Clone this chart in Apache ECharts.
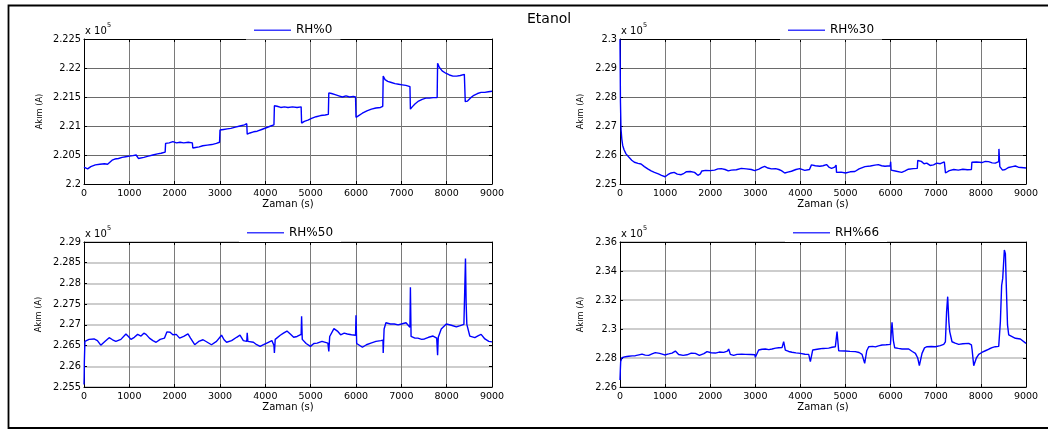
<!DOCTYPE html>
<html>
<head>
<meta charset="utf-8">
<script src="https://cdn.jsdelivr.net/npm/echarts@6/dist/echarts.min.js"></script>
<style>
  html, body { margin: 0; padding: 0; background: #fff; }
  #chart { width: 1048px; height: 431px; }
</style>
</head>
<body>
<div id="chart"></div>
<script>
// Current (x 10^5) against time in seconds, one series per humidity level.
const seriesNames = ['RH%0', 'RH%30', 'RH%50', 'RH%66'];

const rh0 = [
  [0, 2.2029], [40, 2.2027], [80, 2.2026], [150, 2.2030], [250, 2.2033], [350, 2.2034], [450, 2.2035],
  [520, 2.2034], [560, 2.2036], [620, 2.2041], [680, 2.2043], [760, 2.2044], [840, 2.2046], [920, 2.2047],
  [1000, 2.2048], [1080, 2.2049], [1150, 2.2050], [1200, 2.2044], [1240, 2.2045], [1320, 2.2046],
  [1420, 2.2048], [1520, 2.2050], [1620, 2.2052], [1700, 2.2053], [1790, 2.2055], [1800, 2.2070],
  [1880, 2.2071], [1960, 2.2073], [2040, 2.2071], [2120, 2.2072], [2200, 2.2071], [2300, 2.2072],
  [2390, 2.2071], [2400, 2.2062], [2460, 2.2063], [2540, 2.2064], [2620, 2.2066], [2720, 2.2067],
  [2820, 2.2068], [2920, 2.2070], [2990, 2.2072], [3000, 2.2093], [3080, 2.2094], [3160, 2.2095],
  [3240, 2.2096], [3340, 2.2098], [3440, 2.2100], [3540, 2.2102], [3590, 2.2104], [3600, 2.2086],
  [3660, 2.2088], [3740, 2.2090], [3820, 2.2091], [3920, 2.2094], [4020, 2.2097], [4120, 2.2100],
  [4190, 2.2102], [4200, 2.2135], [4260, 2.2134], [4340, 2.2132], [4420, 2.2133], [4500, 2.2132],
  [4600, 2.2133], [4700, 2.2132], [4790, 2.2133], [4800, 2.2105], [4860, 2.2108], [4940, 2.2110],
  [5020, 2.2113], [5120, 2.2116], [5220, 2.2118], [5320, 2.2119], [5390, 2.2120], [5400, 2.2157],
  [5460, 2.2156], [5540, 2.2154], [5620, 2.2152], [5700, 2.2150], [5780, 2.2152], [5860, 2.2150],
  [5940, 2.2151], [5990, 2.2150], [6000, 2.2115], [6060, 2.2118], [6140, 2.2122], [6240, 2.2126],
  [6340, 2.2129], [6440, 2.2131], [6540, 2.2132], [6590, 2.2134], [6600, 2.2186], [6640, 2.2180],
  [6700, 2.2177], [6780, 2.2175], [6860, 2.2173], [6940, 2.2172], [7020, 2.2171], [7100, 2.2170],
  [7190, 2.2168], [7200, 2.2129], [7240, 2.2133], [7300, 2.2138], [7380, 2.2143], [7460, 2.2146],
  [7540, 2.2148], [7620, 2.2148], [7700, 2.2149], [7790, 2.2149], [7800, 2.2208], [7840, 2.2201],
  [7900, 2.2195], [7980, 2.2191], [8060, 2.2188], [8140, 2.2186], [8220, 2.2186], [8300, 2.2187],
  [8390, 2.2189], [8410, 2.2142], [8460, 2.2143], [8520, 2.2148], [8600, 2.2153], [8680, 2.2156],
  [8760, 2.2158], [8840, 2.2158], [8920, 2.2159], [9000, 2.2160]
];

const rh30 = [
  [0, 2.2998], [5, 2.2900], [10, 2.2783], [22, 2.2690], [40, 2.2655], [60, 2.2633], [90, 2.2618],
  [133, 2.2604], [200, 2.2592], [260, 2.2582], [319, 2.2575], [400, 2.2571], [467, 2.2569], [540, 2.2560],
  [615, 2.2552], [690, 2.2545], [763, 2.2540], [850, 2.2535], [920, 2.2530], [1000, 2.2525], [1060, 2.2532],
  [1133, 2.2538], [1200, 2.2540], [1270, 2.2534], [1356, 2.2532], [1420, 2.2537], [1467, 2.2542],
  [1560, 2.2543], [1652, 2.2540], [1726, 2.2530], [1780, 2.2535], [1815, 2.2545], [1900, 2.2547],
  [2000, 2.2546], [2096, 2.2548], [2170, 2.2552], [2244, 2.2553], [2330, 2.2550], [2400, 2.2545],
  [2467, 2.2548], [2580, 2.2549], [2689, 2.2554], [2800, 2.2552], [2911, 2.2550], [2985, 2.2546],
  [3080, 2.2551], [3150, 2.2557], [3207, 2.2561], [3280, 2.2555], [3356, 2.2552], [3450, 2.2553],
  [3520, 2.2550], [3578, 2.2546], [3652, 2.2538], [3720, 2.2541], [3800, 2.2544], [3900, 2.2550],
  [3985, 2.2553], [4096, 2.2547], [4200, 2.2550], [4244, 2.2566], [4330, 2.2563], [4430, 2.2561],
  [4500, 2.2563], [4578, 2.2567], [4640, 2.2557], [4689, 2.2554], [4760, 2.2558], [4790, 2.2565],
  [4800, 2.2540], [4900, 2.2541], [5000, 2.2538], [5100, 2.2542], [5207, 2.2543], [5300, 2.2552],
  [5430, 2.2560], [5550, 2.2562], [5650, 2.2565], [5726, 2.2567], [5800, 2.2563], [5874, 2.2561],
  [5990, 2.2563], [6000, 2.2577], [6010, 2.2548], [6100, 2.2545], [6244, 2.2540], [6320, 2.2545],
  [6393, 2.2551], [6500, 2.2553], [6590, 2.2554], [6600, 2.2581], [6680, 2.2578], [6740, 2.2570],
  [6800, 2.2572], [6874, 2.2564], [6950, 2.2566], [7022, 2.2572], [7100, 2.2570], [7190, 2.2576],
  [7200, 2.2582], [7215, 2.2538], [7300, 2.2546], [7400, 2.2550], [7500, 2.2548], [7600, 2.2551],
  [7700, 2.2549], [7790, 2.2550], [7800, 2.2575], [7900, 2.2576], [8022, 2.2574], [8100, 2.2578],
  [8170, 2.2577], [8250, 2.2573], [8319, 2.2572], [8395, 2.2577], [8400, 2.2621], [8420, 2.2560],
  [8480, 2.2548], [8540, 2.2550], [8615, 2.2557], [8700, 2.2560], [8763, 2.2562], [8830, 2.2558],
  [8874, 2.2554], [8950, 2.2556], [9000, 2.2555]
];

const rh50 = [
  [0, 2.2556], [4, 2.2575], [8, 2.2612], [20, 2.2660], [60, 2.2664], [111, 2.2665], [222, 2.2666],
  [296, 2.2662], [370, 2.2651], [460, 2.2660], [555, 2.2669], [630, 2.2664], [703, 2.2660], [814, 2.2665],
  [925, 2.2678], [980, 2.2672], [1036, 2.2665], [1110, 2.2670], [1184, 2.2677], [1258, 2.2673],
  [1320, 2.2680], [1369, 2.2677], [1443, 2.2668], [1520, 2.2662], [1591, 2.2658], [1680, 2.2665],
  [1776, 2.2668], [1828, 2.2683], [1900, 2.2682], [1960, 2.2676], [2035, 2.2677], [2109, 2.2668],
  [2200, 2.2672], [2294, 2.2678], [2350, 2.2668], [2442, 2.2652], [2530, 2.2660], [2627, 2.2664],
  [2720, 2.2658], [2812, 2.2652], [2923, 2.2660], [3034, 2.2675], [3090, 2.2664], [3145, 2.2658],
  [3256, 2.2662], [3367, 2.2670], [3441, 2.2675], [3515, 2.2662], [3590, 2.2660], [3600, 2.2681],
  [3615, 2.2660], [3737, 2.2658], [3810, 2.2652], [3885, 2.2648], [3960, 2.2652], [4033, 2.2656],
  [4144, 2.2662], [4190, 2.2650], [4200, 2.2632], [4218, 2.2665], [4329, 2.2675], [4400, 2.2680],
  [4477, 2.2685], [4550, 2.2678], [4625, 2.2670], [4700, 2.2672], [4790, 2.2677], [4800, 2.2721],
  [4815, 2.2665], [4900, 2.2655], [4995, 2.2648], [5070, 2.2655], [5143, 2.2656], [5250, 2.2660],
  [5380, 2.2656], [5400, 2.2636], [5420, 2.2672], [5513, 2.2691], [5590, 2.2685], [5661, 2.2676],
  [5740, 2.2680], [5809, 2.2678], [5900, 2.2676], [5990, 2.2675], [6000, 2.2723], [6015, 2.2655],
  [6142, 2.2646], [6230, 2.2652], [6327, 2.2656], [6440, 2.2660], [6549, 2.2662], [6595, 2.2663],
  [6600, 2.2632], [6620, 2.2690], [6660, 2.2705], [6760, 2.2702], [6845, 2.2702], [6930, 2.2700],
  [7000, 2.2702], [7104, 2.2705], [7190, 2.2694], [7200, 2.2791], [7215, 2.2672], [7300, 2.2668],
  [7363, 2.2668], [7450, 2.2665], [7511, 2.2666], [7600, 2.2670], [7700, 2.2673], [7780, 2.2668],
  [7800, 2.2627], [7815, 2.2670], [7880, 2.2690], [7992, 2.2702], [8103, 2.2699], [8214, 2.2695],
  [8300, 2.2698], [8380, 2.2701], [8400, 2.2790], [8415, 2.2860], [8430, 2.2750], [8445, 2.2701],
  [8510, 2.2673], [8621, 2.2669], [8700, 2.2674], [8760, 2.2677], [8843, 2.2666], [8930, 2.2660],
  [9000, 2.2659]
];

const rh66 = [
  [0, 2.2648], [8, 2.2720], [15, 2.2775], [44, 2.2802], [120, 2.2809], [192, 2.2812], [270, 2.2815],
  [340, 2.2816], [420, 2.2822], [488, 2.2827], [560, 2.2820], [636, 2.2818], [710, 2.2828], [783, 2.2837],
  [880, 2.2832], [990, 2.2821], [1080, 2.2828], [1153, 2.2834], [1227, 2.2848], [1300, 2.2824],
  [1400, 2.2818], [1485, 2.2822], [1580, 2.2833], [1670, 2.2832], [1760, 2.2818], [1803, 2.2807],
  [1860, 2.2830], [1929, 2.2844], [2020, 2.2836], [2114, 2.2834], [2200, 2.2841], [2298, 2.2839],
  [2380, 2.2848], [2409, 2.2862], [2446, 2.2825], [2520, 2.2818], [2594, 2.2825], [2700, 2.2826],
  [2779, 2.2825], [2900, 2.2824], [2990, 2.2822], [3000, 2.2805], [3074, 2.2855], [3150, 2.2860],
  [3222, 2.2862], [3300, 2.2858], [3370, 2.2862], [3450, 2.2868], [3518, 2.2871], [3592, 2.2872],
  [3628, 2.2913], [3665, 2.2855], [3740, 2.2845], [3813, 2.2840], [3900, 2.2835], [3998, 2.2832],
  [4100, 2.2826], [4183, 2.2825], [4220, 2.2775], [4271, 2.2855], [4404, 2.2862], [4500, 2.2866],
  [4626, 2.2868], [4700, 2.2874], [4774, 2.2878], [4811, 2.2982], [4848, 2.2850], [4996, 2.2848],
  [5100, 2.2846], [5217, 2.2844], [5300, 2.2838], [5365, 2.2825], [5424, 2.2763], [5470, 2.2850],
  [5513, 2.2878], [5600, 2.2880], [5661, 2.2877], [5730, 2.2884], [5809, 2.2890], [5900, 2.2891],
  [5994, 2.2894], [6030, 2.3046], [6060, 2.2920], [6089, 2.2871], [6170, 2.2866], [6252, 2.2862],
  [6330, 2.2863], [6400, 2.2862], [6480, 2.2845], [6548, 2.2832], [6600, 2.2800], [6636, 2.2747],
  [6695, 2.2832], [6750, 2.2870], [6806, 2.2878], [6900, 2.2879], [6991, 2.2878], [7100, 2.2885],
  [7176, 2.2894], [7213, 2.2912], [7240, 2.3120], [7264, 2.3223], [7290, 2.3050], [7309, 2.2982],
  [7360, 2.2912], [7430, 2.2902], [7508, 2.2894], [7600, 2.2898], [7730, 2.2901], [7790, 2.2890],
  [7804, 2.2860], [7841, 2.2747], [7900, 2.2800], [7952, 2.2825], [8020, 2.2838], [8099, 2.2850],
  [8180, 2.2862], [8247, 2.2871], [8320, 2.2878], [8395, 2.2880], [8432, 2.3051], [8460, 2.3300],
  [8484, 2.3349], [8520, 2.3545], [8543, 2.3520], [8565, 2.3280], [8590, 2.3028], [8617, 2.2960],
  [8654, 2.2947], [8765, 2.2936], [8875, 2.2931], [9000, 2.2901]
];

// Axis ranges: [min, max, step]
const timeRange = [0, 9000, 1000];
const currentRanges = [
  [2.2, 2.225, 0.005],
  [2.25, 2.3, 0.01],
  [2.255, 2.29, 0.005],
  [2.26, 2.36, 0.02]
];

const panelData = [rh0, rh30, rh50, rh66];

// Plot boxes and the pieces placed around them
const layout = [
  { left: 84,  top: 39,  width: 408, height: 145, nameGap: 40, legendLeft: 246, legendTop: 22,  hGrid: '#6a6a6a' },
  { left: 620, top: 39,  width: 406, height: 145, nameGap: 35, legendLeft: 780, legendTop: 22,  hGrid: '#6a6a6a' },
  { left: 84,  top: 242, width: 408, height: 145, nameGap: 41, legendLeft: 239, legendTop: 224.5, hGrid: '#bdbdbd' },
  { left: 620, top: 242, width: 406, height: 145, nameGap: 35, legendLeft: 785, legendTop: 224.5, hGrid: '#bdbdbd' }
];

const FONT = 'DejaVu Sans';
const BLUE = '#0000ff';
const fmtCurrent = v => String(+v.toFixed(4));
const fmtTime = v => String(Math.round(v));

const grid = [], xAxis = [], yAxis = [], series = [], legend = [], graphic = [];

layout.forEach((p, i) => {
  grid.push({ left: p.left, top: p.top, width: p.width, height: p.height, containLabel: false });

  const [ymin, ymax, ystep] = currentRanges[i];
  const [xmin, xmax, xstep] = timeRange;

  // bottom axis with labels
  xAxis.push({
    type: 'value', gridIndex: i, min: xmin, max: xmax, interval: xstep,
    name: 'Zaman (s)', nameLocation: 'middle', nameGap: 15,
    nameTextStyle: { fontFamily: FONT, fontSize: 10, color: '#000' },
    axisLine: { show: true, onZero: false, lineStyle: { color: '#000', width: 1 } },
    axisTick: { show: true, inside: true, length: 3, lineStyle: { color: '#000' } },
    axisLabel: { fontFamily: FONT, fontSize: 9.5, color: '#000', margin: 5, formatter: fmtTime },
    splitLine: { show: true, lineStyle: { color: '#7a7a7a', width: 1 } }
  });
  // top frame edge with inward ticks
  xAxis.push({
    type: 'value', gridIndex: i, min: xmin, max: xmax, interval: xstep, position: 'top',
    axisLine: { show: true, onZero: false, lineStyle: { color: '#000', width: 1 } },
    axisTick: { show: true, inside: true, length: 3, lineStyle: { color: '#000' } },
    axisLabel: { show: false }, splitLine: { show: false }
  });

  // left axis with labels
  yAxis.push({
    type: 'value', gridIndex: i, min: ymin, max: ymax, interval: ystep,
    name: 'Akım (A)', nameLocation: 'middle', nameGap: p.nameGap, nameRotate: 90,
    nameTextStyle: { fontFamily: FONT, fontSize: 8.3, color: '#000' },
    axisLine: { show: true, onZero: false, lineStyle: { color: '#000', width: 1 } },
    axisTick: { show: true, inside: true, length: 3, lineStyle: { color: '#000' } },
    axisLabel: { fontFamily: FONT, fontSize: 9.8, color: '#000', margin: 3, formatter: fmtCurrent },
    splitLine: { show: true, lineStyle: { color: p.hGrid, width: i < 2 ? 1 : 1.5 } }
  });
  // right frame edge with inward ticks
  yAxis.push({
    type: 'value', gridIndex: i, min: ymin, max: ymax, interval: ystep, position: 'right',
    axisLine: { show: true, onZero: false, lineStyle: { color: '#000', width: 1 } },
    axisTick: { show: true, inside: true, length: 3, lineStyle: { color: '#000' } },
    axisLabel: { show: false }, splitLine: { show: false }
  });

  series.push({
    name: seriesNames[i], type: 'line',
    xAxisIndex: 2 * i, yAxisIndex: 2 * i,
    data: panelData[i],
    symbol: 'none', showSymbol: false, smooth: false,
    lineStyle: { color: BLUE, width: 1.4 },
    itemStyle: { color: BLUE },
    animation: false, z: 3
  });

  // legend key: a thin line sample followed by the series name
  legend.push({
    data: [{ name: seriesNames[i], icon: 'rect' }],
    left: p.legendLeft, top: p.legendTop,
    orient: 'horizontal',
    itemWidth: 37, itemHeight: 1.3,
    padding: [2, 8, 3, 8],
    backgroundColor: '#fff',
    borderWidth: 0,
    selectedMode: false,
    itemStyle: { color: '#3c3cff', borderWidth: 0 },
    textStyle: { fontFamily: FONT, fontSize: 12, color: '#000', lineHeight: 12.5 },
    z: 10
  });

  // "x 10^5" scale note above each plot
  graphic.push({
    type: 'text', x: p.left + 1, y: p.top - 13, z: 20,
    style: { text: 'x 10', font: '10px "DejaVu Sans"', fill: '#000' }
  });
  graphic.push({
    type: 'text', x: p.left + 23, y: p.top - 17, z: 20,
    style: { text: '5', font: '6.5px "DejaVu Sans"', fill: '#000' }
  });
});

// outer frame around the whole figure
graphic.push({
  type: 'rect', z: 30, silent: true,
  shape: { x: 8.5, y: 5.5, width: 1050, height: 422.5 },
  style: { fill: 'none', stroke: '#000', lineWidth: 1.8 }
});

const chart = echarts.init(document.getElementById('chart'), null, { renderer: 'canvas' });
chart.setOption({
  backgroundColor: '#fff',
  animation: false,
  title: {
    text: 'Etanol', left: 527, top: 12, padding: 0,
    textStyle: { fontFamily: FONT, fontSize: 14, fontWeight: 'normal', color: '#000' }
  },
  grid, xAxis, yAxis, series, legend, graphic
});
</script>
</body>
</html>
